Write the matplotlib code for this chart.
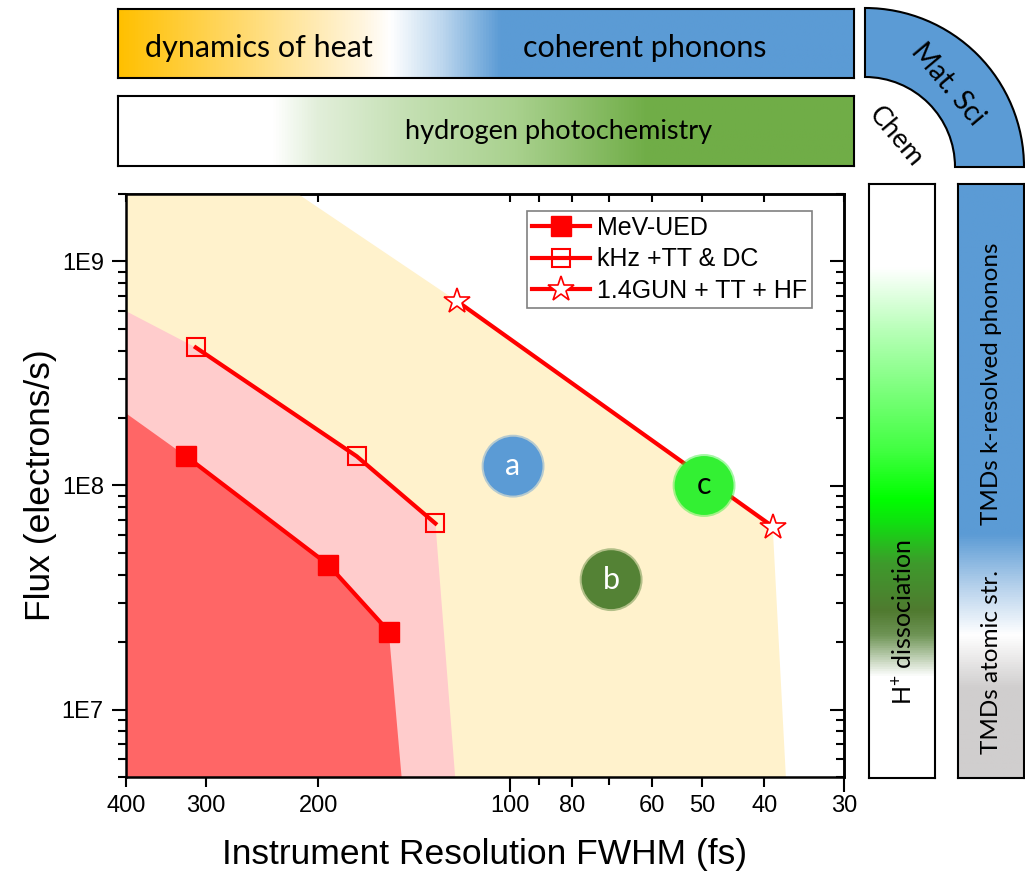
import numpy as np
import matplotlib
matplotlib.use('Agg')
import matplotlib.pyplot as plt
from matplotlib.colors import LinearSegmentedColormap
from matplotlib.patches import Wedge
from matplotlib.ticker import FixedLocator, FixedFormatter, NullFormatter

# ---------------- data ----------------
mev_x = [322, 193, 155]
mev_y = [1.35e8, 4.44e7, 2.23e7]
khz_x = [311, 174, 131]
khz_y = [4.13e8, 1.35e8, 6.77e7]
gun_x = [121, 38.8]
gun_y = [6.63e8, 6.56e7]

series_labels = ['MeV-UED', 'kHz +TT & DC', '1.4GUN + TT + HF']

# shaded regions (boundaries)
red_x = [400, 322, 193, 155, 148, 400]
red_y = [2.1e8, 1.35e8, 4.44e7, 2.23e7, 5e6, 5e6]
pink_x = [400, 311, 174, 131, 122, 400]
pink_y = [6.0e8, 4.13e8, 1.35e8, 6.77e7, 5e6, 5e6]
yellow_x = [400, 215, 121, 38.8, 37.0, 400]
yellow_y = [2e9, 2e9, 6.63e8, 6.56e7, 5e6, 5e6]

bubble_labels = ['a', 'b', 'c']
bubble_x = [99, 69.5, 49.7]
bubble_y = [1.22e8, 3.8e7, 1.0e8]
bubble_colors = ['#5B9BD5', '#548235', '#33F033']
bubble_text_colors = ['white', 'white', 'black']

xtick_values = [400, 300, 200, 100, 80, 60, 50, 40, 30]
xtick_labels = ['400', '300', '200', '100', '80', '60', '50', '40', '30']
xtick_minor = [90, 70]
ytick_values = [1e7, 1e8, 1e9]
ytick_labels = ['1E7', '1E8', '1E9']

W, H = 1025, 877
ARIAL = ['Liberation Sans', 'DejaVu Sans']
CAL = ['Lato', 'DejaVu Sans']

plt.rcParams['mathtext.fontset'] = 'custom'
plt.rcParams['mathtext.rm'] = 'Lato'
plt.rcParams['mathtext.it'] = 'Lato:italic'

fig = plt.figure(figsize=(W / 100, H / 100), dpi=100)


def fbox(x0, y0, x1, y1):
    return [x0 / W, 1 - y1 / H, (x1 - x0) / W, (y1 - y0) / H]


# ---------------- main axes ----------------
ax = fig.add_axes(fbox(126, 194, 844, 777))
ax.set_xscale('log')
ax.set_yscale('log')

ax.fill(yellow_x, yellow_y, color='#FFF2CC', lw=0, zorder=1)
ax.fill(pink_x, pink_y, color='#FFCCCC', lw=0, zorder=2)
ax.fill(red_x, red_y, color='#FF6666', lw=0, zorder=3)

red = '#FF0000'
ax.plot(mev_x, mev_y, color=red, lw=3, marker='s', ms=14, mfc=red, mec=red,
        zorder=6, label=series_labels[0])
ax.plot(khz_x, khz_y, color=red, lw=3, marker='s', ms=13.5, mfc='none', mec=red,
        mew=1.5, zorder=6, label=series_labels[1])
ax.plot(gun_x, gun_y, color=red, lw=3, marker='*', ms=19, mfc='white', mec=red,
        mew=1.2, zorder=6, label=series_labels[2])

# bubbles with soft edge
ax.scatter(bubble_x, bubble_y, s=2050, c=bubble_colors, alpha=0.45, lw=0, zorder=7)
ax.scatter(bubble_x, bubble_y, s=1800, c=bubble_colors, lw=0, zorder=8)
for lab, bx, by, tc in zip(bubble_labels, bubble_x, bubble_y, bubble_text_colors):
    ax.text(bx, by, lab, color=tc, fontsize=22, family=CAL, ha='center',
            va='center', zorder=9)

ax.set_xlim(400, 30)
ax.set_ylim(5e6, 2e9)

ax.xaxis.set_major_locator(FixedLocator(xtick_values))
ax.xaxis.set_major_formatter(FixedFormatter(xtick_labels))
ax.xaxis.set_minor_locator(FixedLocator(xtick_minor))
ax.xaxis.set_minor_formatter(NullFormatter())
ax.yaxis.set_major_locator(FixedLocator(ytick_values))
ax.yaxis.set_major_formatter(FixedFormatter(ytick_labels))
ax.yaxis.set_minor_locator(matplotlib.ticker.LogLocator(base=10, subs=np.arange(2, 10)))
ax.yaxis.set_minor_formatter(NullFormatter())

ax.tick_params(which='major', direction='out', length=7, width=1.5, labelsize=17, pad=6)
ax.tick_params(which='minor', direction='out', length=6, width=1.5)
ax.tick_params(axis='y', which='major', length=10)
for lab in ax.get_xticklabels() + ax.get_yticklabels():
    lab.set_family(ARIAL)
for sp in ax.spines.values():
    sp.set_linewidth(1.8)
    sp.set_zorder(10)
# the 100 and 30 ticks are drawn longer in the reference
fig.canvas.draw()
for t, v in zip(ax.xaxis.get_major_ticks(), xtick_values):
    if v in (100, 30):
        t.tick1line.set_markersize(11)

secx = ax.secondary_xaxis('top')
secx.xaxis.set_major_locator(FixedLocator(xtick_values))
secx.xaxis.set_minor_locator(FixedLocator(xtick_minor))
secx.xaxis.set_major_formatter(NullFormatter())
secx.xaxis.set_minor_formatter(NullFormatter())
secx.tick_params(which='both', direction='in', length=6, width=1.5)
secx.spines['top'].set_linewidth(1.8)

secy = ax.secondary_yaxis('right')
secy.yaxis.set_major_locator(FixedLocator(ytick_values))
secy.yaxis.set_minor_locator(matplotlib.ticker.LogLocator(base=10, subs=np.arange(2, 10)))
secy.yaxis.set_major_formatter(NullFormatter())
secy.yaxis.set_minor_formatter(NullFormatter())
secy.tick_params(which='major', direction='in', length=10, width=1.5)
secy.tick_params(which='minor', direction='in', length=6, width=1.5)
secy.spines['right'].set_linewidth(1.8)

ax.set_xlabel('Instrument Resolution FWHM (fs)', fontsize=25.5, family=ARIAL, labelpad=15)
ax.set_ylabel('Flux (electrons/s)', fontsize=25.5, family=ARIAL, labelpad=3)

leg = ax.legend(loc='upper left', bbox_to_anchor=(527 / W, 1 - 211 / H),
                bbox_transform=fig.transFigure, prop={'family': ARIAL, 'size': 18},
                frameon=True, fancybox=False, edgecolor='#808080', framealpha=1,
                borderpad=0.2, labelspacing=0.3, handlelength=2.3,
                handletextpad=0.3, borderaxespad=0)
leg.get_frame().set_linewidth(1.2)
leg.set_zorder(20)

# ---------------- gradient bars ----------------
def hbar(x0, y0, x1, y1, stops):
    a = fig.add_axes(fbox(x0, y0, x1, y1))
    cmap = LinearSegmentedColormap.from_list('c', stops)
    a.imshow(np.linspace(0, 1, 512)[None, :], aspect='auto', cmap=cmap,
             extent=[0, 1, 0, 1])
    a.set_xticks([]); a.set_yticks([])
    for sp in a.spines.values():
        sp.set_linewidth(1.5)
    return a


def vbar(x0, y0, x1, y1, stops):
    a = fig.add_axes(fbox(x0, y0, x1, y1))
    cmap = LinearSegmentedColormap.from_list('c', stops)
    a.imshow(np.linspace(0, 1, 512)[:, None], aspect='auto', cmap=cmap,
             extent=[0, 1, 0, 1], origin='upper')
    a.set_xticks([]); a.set_yticks([])
    for sp in a.spines.values():
        sp.set_linewidth(1.5)
    return a


hbar(118, 9, 854, 78, [(0.0, '#FFC000'), (0.17, '#FFDA70'), (0.33, '#FFF5DD'),
                       (0.37, '#FFFFFF'), (0.44, '#BDD7EE'), (0.52, '#5B9BD5'),
                       (1.0, '#5B9BD5')])
hbar(118, 96, 854, 166, [(0.0, '#FFFFFF'), (0.21, '#FFFFFF'), (0.27, '#E2EFDA'),
                         (0.39, '#C5E0B4'), (0.54, '#A9D18E'), (0.72, '#70AD47'),
                         (1.0, '#70AD47')])
vbar(869, 184, 935, 778, [(0.0, '#FFFFFF'), (0.14, '#FFFFFF'), (0.25, '#B5FFB5'),
                          (0.45, '#40FF40'), (0.53, '#00FF00'), (0.57, '#10E010'),
                          (0.64, '#3E9A2C'), (0.72, '#507A30'), (0.76, '#6E9455'),
                          (0.83, '#FFFFFF'), (1.0, '#FFFFFF')])
vbar(958, 184, 1024, 778, [(0.0, '#5B9BD5'), (0.59, '#5B9BD5'), (0.68, '#B7D2EC'),
                           (0.76, '#FFFFFF'), (0.85, '#D0CECE'), (1.0, '#D0CECE')])

# ---------------- overlay for annotations ----------------
ov = fig.add_axes([0, 0, 1, 1])
ov.set_xlim(0, W)
ov.set_ylim(H, 0)
ov.axis('off')
ov.patch.set_visible(False)
ov.add_patch(Wedge((865, 167), 159, -90, 0, width=69, facecolor='#5B9BD5',
                   edgecolor='black', lw=1.5))

ov.text(259, 48, 'dynamics of heat', fontsize=22, family=CAL, ha='center', va='center')
ov.text(645, 48, 'coherent phonons', fontsize=22, family=CAL, ha='center', va='center')
ov.text(559, 132, 'hydrogen photochemistry', fontsize=19.5, family=CAL, ha='center', va='center')
ov.text(948, 84, 'Mat. Sci', fontsize=20, family=CAL, ha='center', va='center', rotation=-50)
ov.text(896, 137, 'Chem', fontsize=19.5, family=CAL, ha='center', va='center', rotation=-50)
ov.text(903, 622, r'H$^{+}$ dissociation', fontsize=18, family=CAL, ha='center',
        va='center', rotation=90)
ov.text(991, 384, 'TMDs k-resolved phonons', fontsize=17.5, family=CAL, ha='center',
        va='center', rotation=90)
ov.text(991, 662, 'TMDs atomic str.', fontsize=17.5, family=CAL, ha='center',
        va='center', rotation=90)

fig.savefig('out.png', dpi=100)
